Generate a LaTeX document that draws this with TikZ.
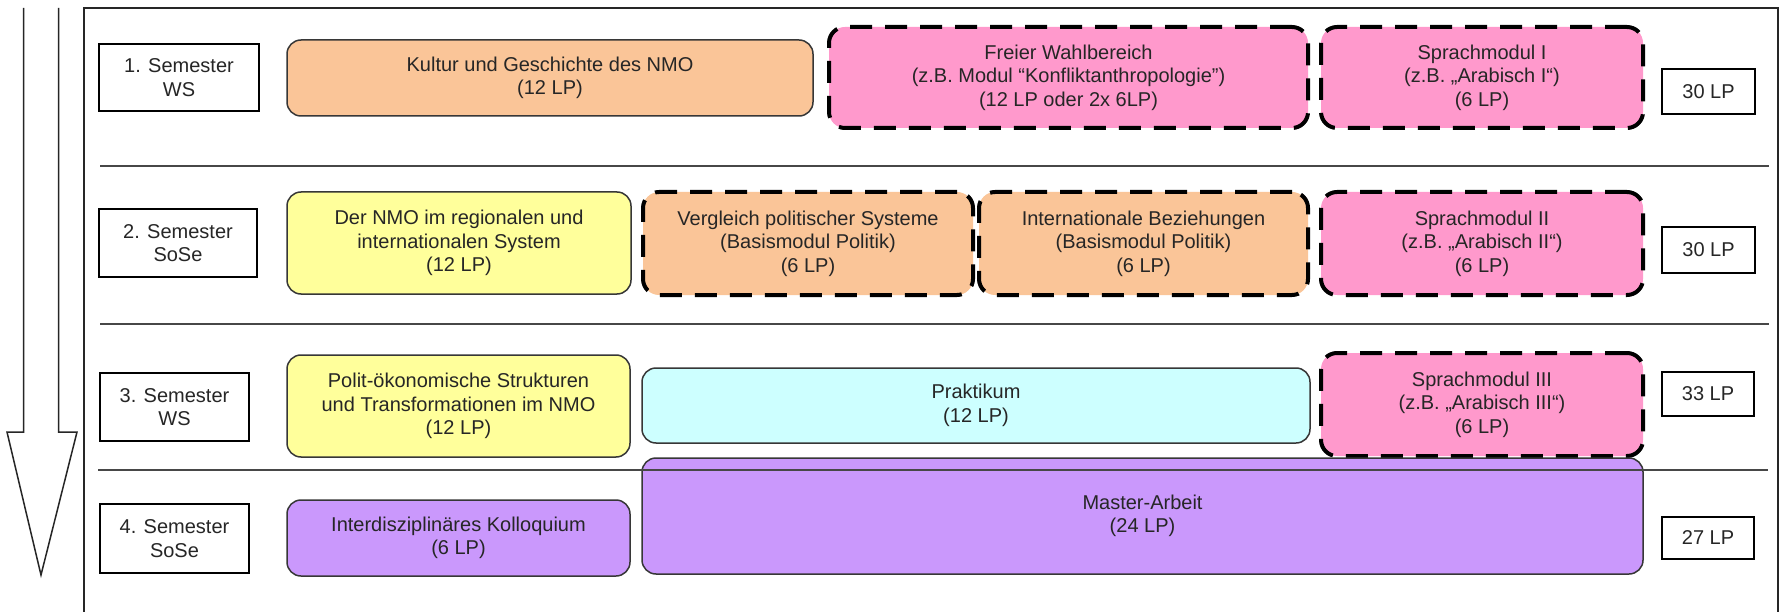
\documentclass[tikz,border=0pt]{standalone}
\usepackage{fontspec}
\setmainfont{Liberation Sans}
\definecolor{orangeF}{RGB}{250,197,152}
\definecolor{pinkF}{RGB}{255,153,204}
\definecolor{yellowF}{RGB}{255,255,155}
\definecolor{cyanF}{RGB}{205,255,255}
\definecolor{purpleF}{RGB}{202,152,252}
\definecolor{txt}{RGB}{38,38,38}
\definecolor{edge}{RGB}{55,55,55}
\tikzset{
  boxbase/.style={rectangle, align=center, inner sep=0pt, text=txt,
    font=\fontsize{20}{23.5}\selectfont},
  semlabel/.style={boxbase, draw=black, line width=1.5pt, fill=white},
  modsolid/.style={boxbase, draw=edge, line width=1.5pt, rounded corners=14pt},
  moddash/.style={boxbase, draw=black, line width=4pt, rounded corners=16pt,
    dash pattern=on 22pt off 13pt},
  sepline/.style={line width=1.5pt, draw=black!72},
  framelinestyle/.style={line width=1.5pt, draw=black!85},
}
\newcommand\modbox[7]{%
  \node[#1, minimum width={#4-#2}, minimum height={#5-#3}] (#6)
    at ({(#2+#4)/2},{(#3+#5)/2}) {#7};}
\begin{document}
\begin{tikzpicture}[x=1pt, y=-1pt]
\useasboundingbox (0,0) rectangle (1787,612);
\clip (0,0) rectangle (1787,612);
\fill[white] (0,0) rectangle (1787,612);

% frame
\draw[framelinestyle] (84,630) -- (84,8) -- (1778,8) -- (1778,630);

% time arrow
\draw[framelinestyle, fill=white] (23.5,8) -- (23.5,432) -- (7,432) -- (41,575)
  -- (77,432) -- (58.5,432) -- (58.5,8);

% row 1
\modbox{semlabel}{99}{44}{259}{111}{s1}{1. Semester\\WS}
\modbox{modsolid, fill=orangeF}{287}{40}{813}{116}{kultur}{Kultur und Geschichte des NMO\\(12 LP)}
\modbox{moddash, fill=pinkF}{829}{27}{1308}{128}{frei}{Freier Wahlbereich\\(z.B. Modul “Konfliktanthropologie”)\\(12 LP oder 2x 6LP)}
\modbox{moddash, fill=pinkF}{1321}{27}{1643}{128}{spr1}{Sprachmodul I\\(z.B. „Arabisch I“)\\(6 LP)}
\modbox{semlabel}{1662}{69}{1755}{114}{lp1}{30 LP}

% row 2
\modbox{semlabel}{99}{209}{257}{277}{s2}{2. Semester\\SoSe}
\modbox{modsolid, fill=yellowF}{287}{192}{631}{294}{nmo}{Der NMO im regionalen und\\internationalen System\\(12 LP)}
\modbox{moddash, fill=orangeF}{643}{192}{973}{295}{vergl}{Vergleich politischer Systeme\\(Basismodul Politik)\\(6 LP)}
\modbox{moddash, fill=orangeF}{979}{192}{1308}{295}{intbez}{Internationale Beziehungen\\(Basismodul Politik)\\(6 LP)}
\modbox{moddash, fill=pinkF}{1321}{192}{1643}{295}{spr2}{Sprachmodul II\\(z.B. „Arabisch II“)\\(6 LP)}
\modbox{semlabel}{1662}{227}{1755}{273}{lp2}{30 LP}

% row 3
\modbox{semlabel}{100}{373}{249}{441}{s3}{3. Semester\\WS}
\modbox{modsolid, fill=yellowF}{287}{355}{630}{457}{polit}{Polit-ökonomische Strukturen\\und Transformationen im NMO\\(12 LP)}
\modbox{modsolid, fill=cyanF}{642}{368}{1310}{443}{prakt}{Praktikum\\(12 LP)}
\modbox{moddash, fill=pinkF}{1321}{353}{1643}{456}{spr3}{Sprachmodul III\\(z.B. „Arabisch III“)\\(6 LP)}
\modbox{semlabel}{1662}{372}{1754}{416}{lp3}{33 LP}

% row 4
\modbox{semlabel}{100}{504}{249}{573}{s4}{4. Semester\\SoSe}
\modbox{modsolid, fill=purpleF}{287}{500}{630}{576}{kolloq}{Interdisziplinäres Kolloquium\\(6 LP)}
\modbox{modsolid, fill=purpleF}{642}{458}{1643}{574}{master}{Master-Arbeit\\(24 LP)}
\modbox{semlabel}{1662}{517}{1754}{559}{lp4}{27 LP}

% semester separators
\draw[sepline] (100,166) -- (1769,166);
\draw[sepline] (100,324) -- (1769,324);
\draw[sepline] (98,470) -- (1768,470);
\end{tikzpicture}
\end{document}
